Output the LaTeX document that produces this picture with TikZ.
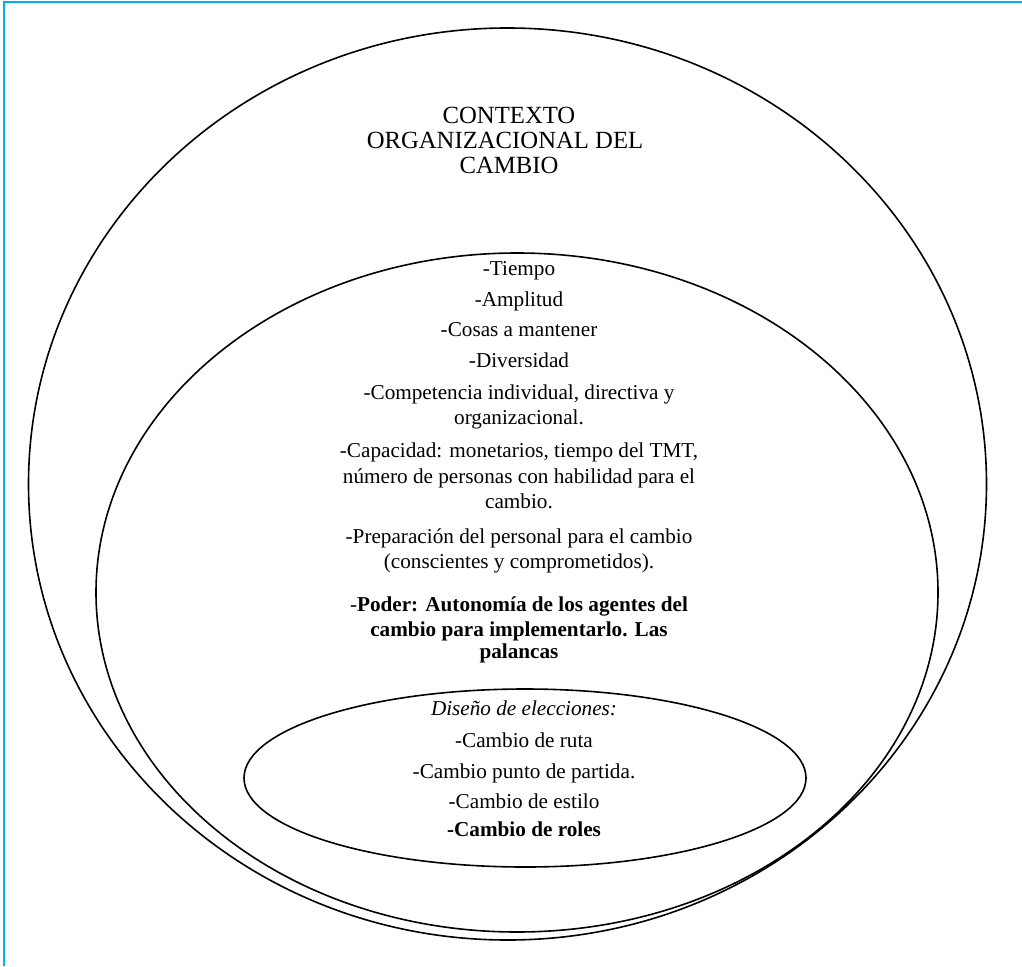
\documentclass[tikz,border=0pt]{standalone}
\usepackage{fontspec}
\setmainfont{Liberation Serif}
\usetikzlibrary{shapes.geometric}
\definecolor{framecol}{RGB}{0,176,240}
\begin{document}
\begin{tikzpicture}[x=1pt,y=-1pt,
  ring/.style={ellipse, draw=black, line width=1.6pt, inner sep=0pt},
  item/.style={anchor=base, inner sep=0pt, font=\fontsize{21.2}{25}\selectfont},
  heading/.style={anchor=base, inner sep=0pt, font=\fontsize{24.7}{26}\selectfont}]
\useasboundingbox (0,0) rectangle (1022,966);

% page frame (top and left edges)
\coordinate (fr) at (1022,2);
\coordinate (fc) at (4,2);
\coordinate (fb) at (4,966);
\draw[framecol, line width=1.7pt] (fr) -- (fc) -- (fb);

% nested ellipses
\node[ring, minimum width=958pt, minimum height=912pt] (outer) at (507.5,484) {};
\node[ring, minimum width=842pt, minimum height=679pt] (middle) at (517,592.5) {};
\node[ring, minimum width=562pt, minimum height=178pt] (inner) at (525,778) {};

% outer ellipse heading
\node[heading] (h1) at (509,123) {CONTEXTO};
\node[heading] (h2) at (505,148) {ORGANIZACIONAL DEL};
\node[heading] (h3) at (509,173) {CAMBIO};

% middle ellipse list
\node[item] (m1)  at (519,275) {-Tiempo};
\node[item] (m2)  at (519,306) {-Amplitud};
\node[item] (m3)  at (519,336) {-Cosas a mantener};
\node[item] (m4)  at (519,367) {-Diversidad};
\node[item] (m5)  at (519,399) {-Competencia individual, directiva y};
\node[item] (m6)  at (519,424) {organizacional.};
\node[item] (m7)  at (519,457) {-Capacidad: monetarios, tiempo del TMT,};
\node[item] (m8)  at (519,483) {número de personas con habilidad para el};
\node[item] (m9)  at (519,508) {cambio.};
\node[item] (m10) at (519,543) {-Preparación del personal para el cambio};
\node[item] (m11) at (519,568) {(conscientes y comprometidos).};
\node[item] (m12) at (519,611) {-\textbf{Poder: Autonomía de los agentes del}};
\node[item] (m13) at (519,636) {\textbf{cambio para implementarlo. Las}};
\node[item] (m14) at (519,658) {\textbf{palancas}};

% inner ellipse list
\node[item] (i1) at (524,715) {\textit{Diseño de elecciones:}};
\node[item] (i2) at (524,747) {-Cambio de ruta};
\node[item] (i3) at (524,778) {-Cambio punto de partida.};
\node[item] (i4) at (524,808) {-Cambio de estilo};
\node[item] (i5) at (524,836) {\textbf{-Cambio de roles}};
\end{tikzpicture}
\end{document}
